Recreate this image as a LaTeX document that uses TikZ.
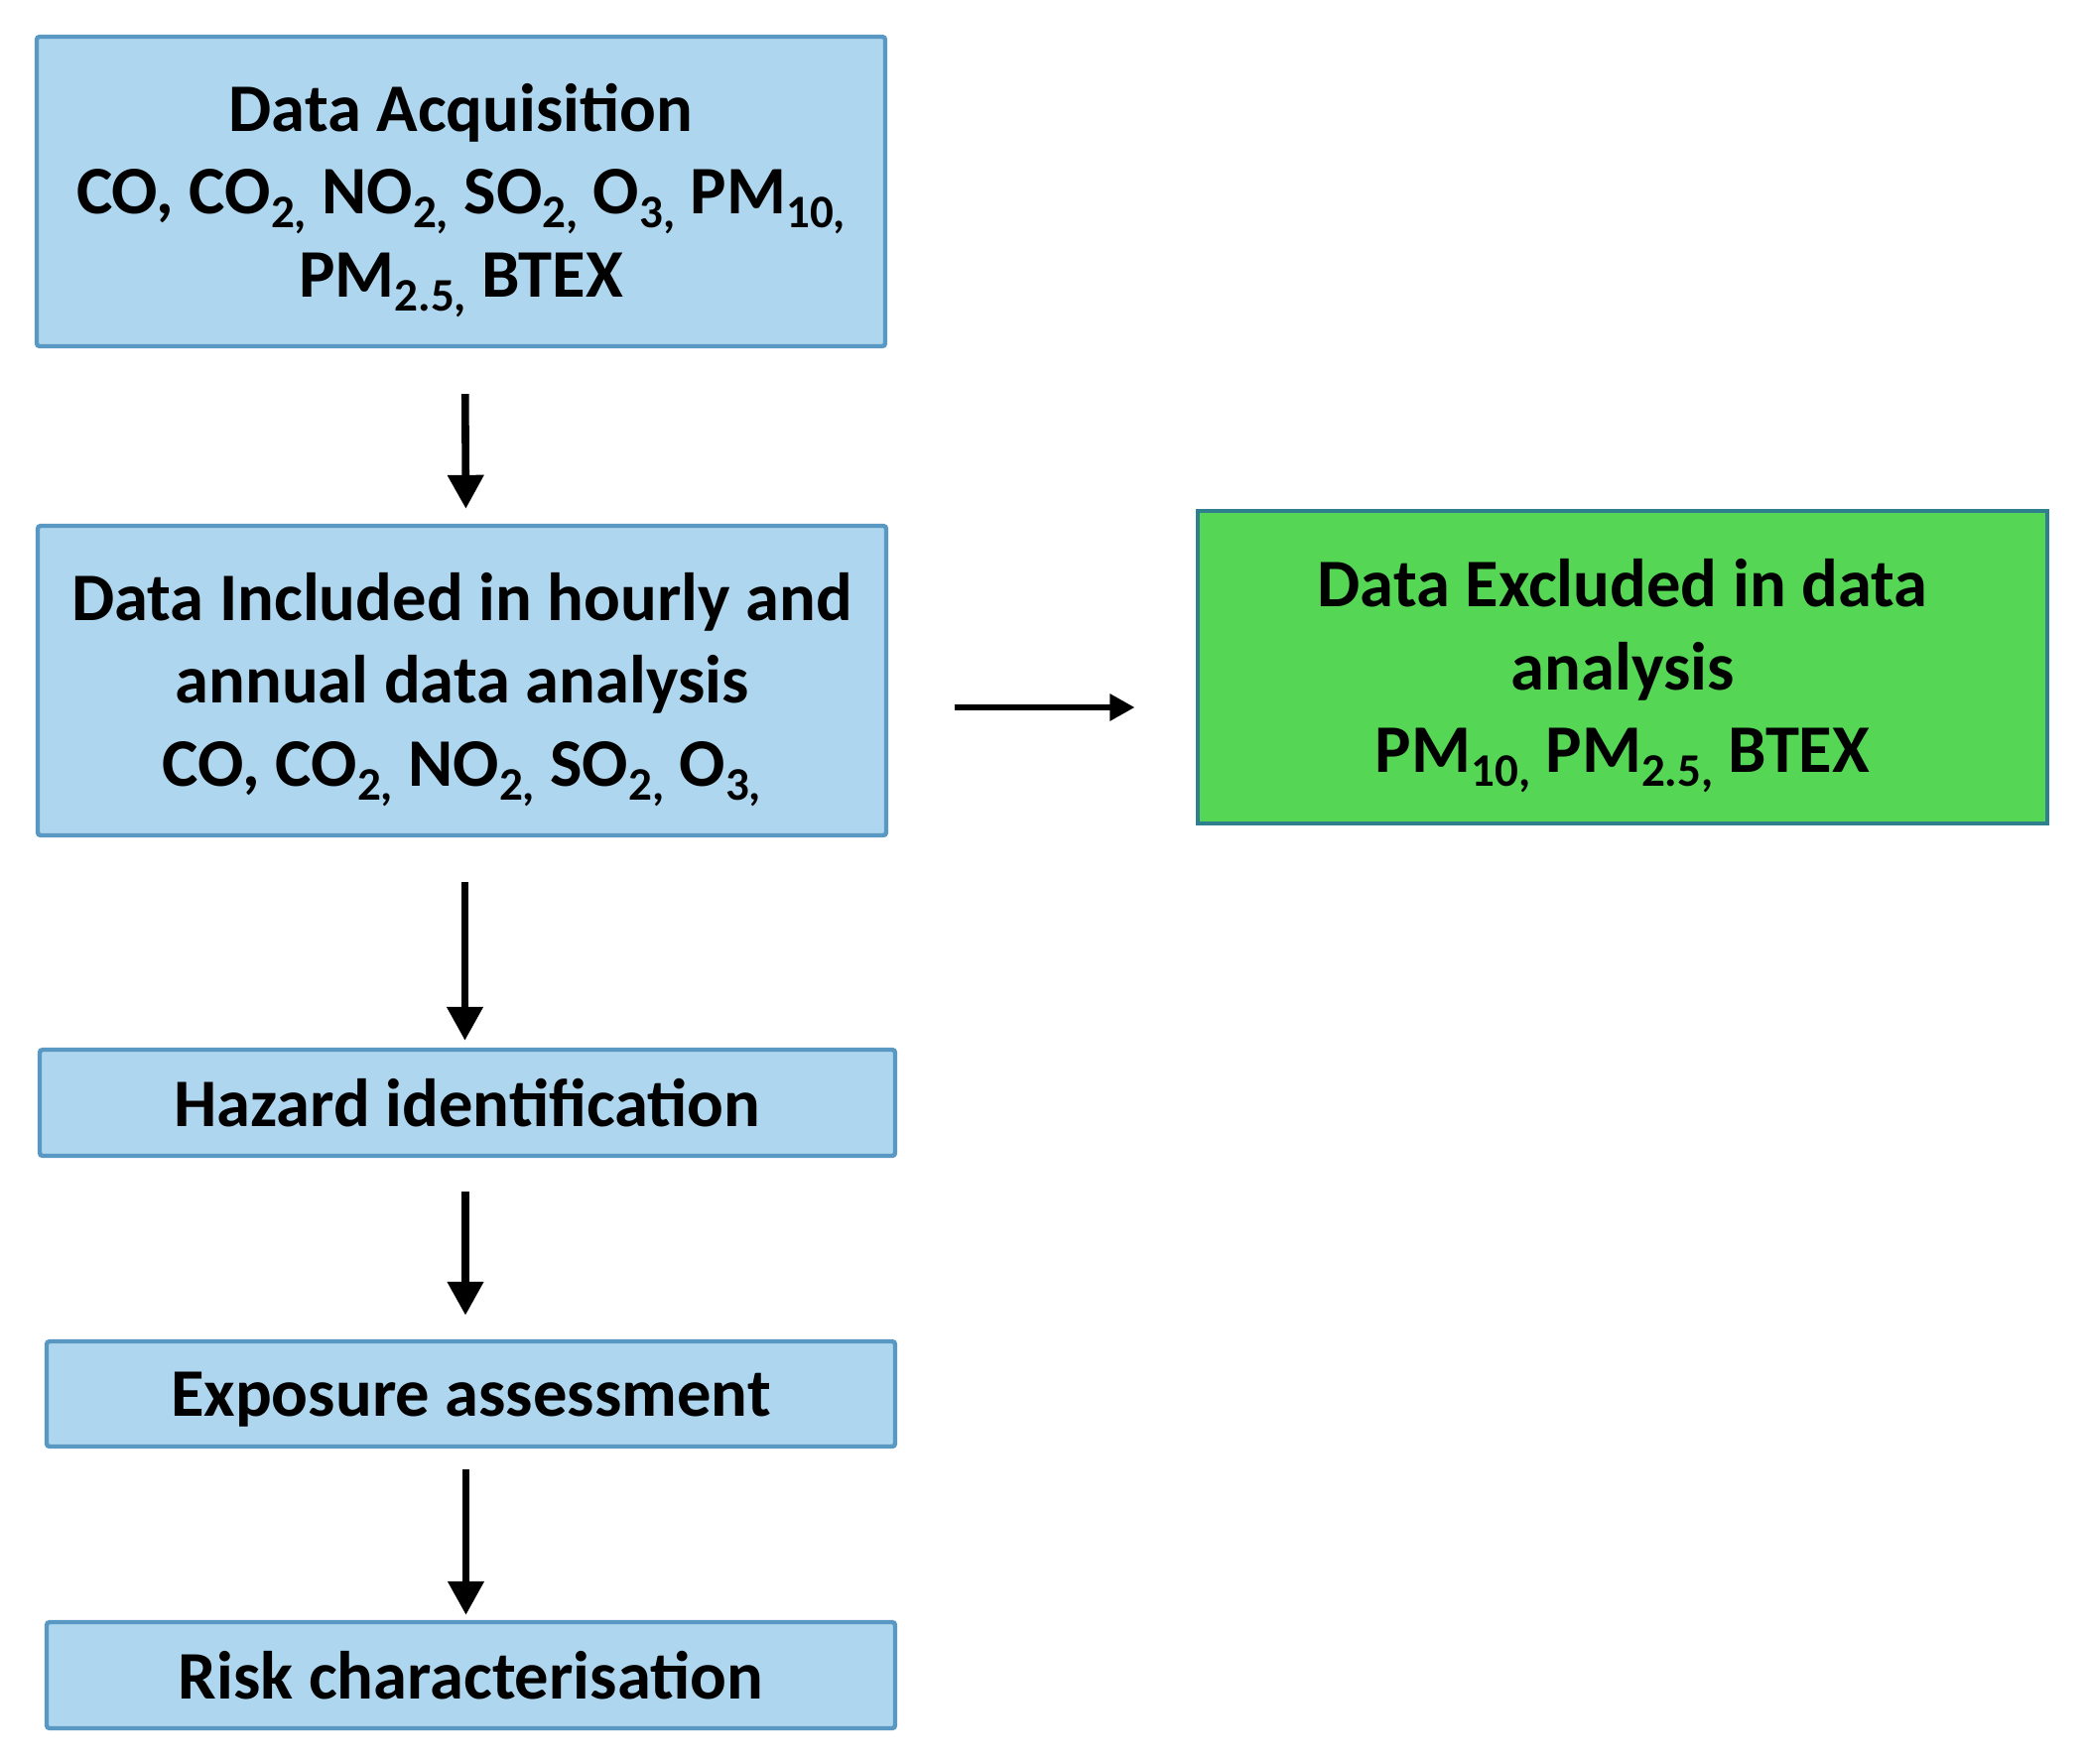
\documentclass[tikz,border=0pt]{standalone}
\usepackage{fontspec}
\setmainfont{Carlito}
\usetikzlibrary{arrows.meta}
\definecolor{boxfill}{HTML}{AED6EE}
\definecolor{boxline}{HTML}{5A98C4}
\definecolor{gfill}{HTML}{55D655}
\definecolor{gline}{HTML}{2F7F8F}
\newcommand{\sbs}[1]{\raisebox{-7pt}{\fontsize{23.5}{23.5}\selectfont #1}}
\newcommand{\topstrut}{\rule{0pt}{33pt}}
\begin{document}
\begin{tikzpicture}[x=0.5pt, y=-0.5pt,
  font=\fontsize{34.3}{41.7}\selectfont\bfseries,
  bluebox/.style={draw=boxline, fill=boxfill, line width=2.2pt, rounded corners=1.5pt, inner sep=0pt, align=center},
  onebox/.style={bluebox, text depth=0pt},
  greenbox/.style={draw=gline, fill=gfill, line width=1.6pt, inner sep=0pt, align=center},
  varrow/.style={line width=3.8pt, -{Triangle[width=17.5pt,length=17pt]}},
  harrow/.style={line width=3pt, -{Triangle[width=13pt,length=12.5pt]}}]
\useasboundingbox (0,0) rectangle (2102,1777);
\node[bluebox, minimum width=427.5pt, minimum height=156pt] (acq) at (464.5,193)
  {\topstrut Data Acquisition\\CO, CO\sbs{2,} NO\sbs{2,} SO\sbs{2,} O\sbs{3,} PM\sbs{10,}\\PM\sbs{2.5,} BTEX};
\node[bluebox, minimum width=427.5pt, minimum height=156pt] (inc) at (465.5,686)
  {\topstrut Data Included in hourly and\\annual data analysis\\CO, CO\sbs{2,} NO\sbs{2,} SO\sbs{2,} O\sbs{3,}};
\node[greenbox, minimum width=428pt, minimum height=157.5pt] (exc) at (1635,672.5)
  {\topstrut Data Excluded in data\\analysis\\PM\sbs{10,} PM\sbs{2.5,} BTEX};
\node[onebox, minimum width=431pt, minimum height=53.5pt] (haz) at (471,1111.5) {Hazard identification};
\node[onebox, minimum width=427.5pt, minimum height=53pt] (exp) at (474.5,1405) {Exposure assessment};
\node[onebox, minimum width=427.5pt, minimum height=53.5pt] (risk) at (474.5,1688.5) {Risk characterisation};
\coordinate (hy) at (0,713);
\draw[varrow, shorten <=23pt, shorten >=7.5pt] ([xshift=2pt]acq.south) -- ([xshift=2pt]inc.north);
\draw[varrow, shorten <=22.5pt, shorten >=3.5pt] ([xshift=1.5pt]inc.south) -- ([xshift=1.5pt]inc.south |- haz.north);
\draw[varrow, shorten <=17pt, shorten >=12pt] ([xshift=-1pt]haz.south) -- ([xshift=-1pt]haz.south |- exp.north);
\draw[varrow, shorten <=10.5pt, shorten >=2.5pt] ([xshift=-2.5pt]exp.south) -- ([xshift=-2.5pt]risk.north);
\draw[harrow, shorten <=33.5pt, shorten >=31pt] (inc.east |- hy) -- (exc.west |- hy);
\end{tikzpicture}
\end{document}
